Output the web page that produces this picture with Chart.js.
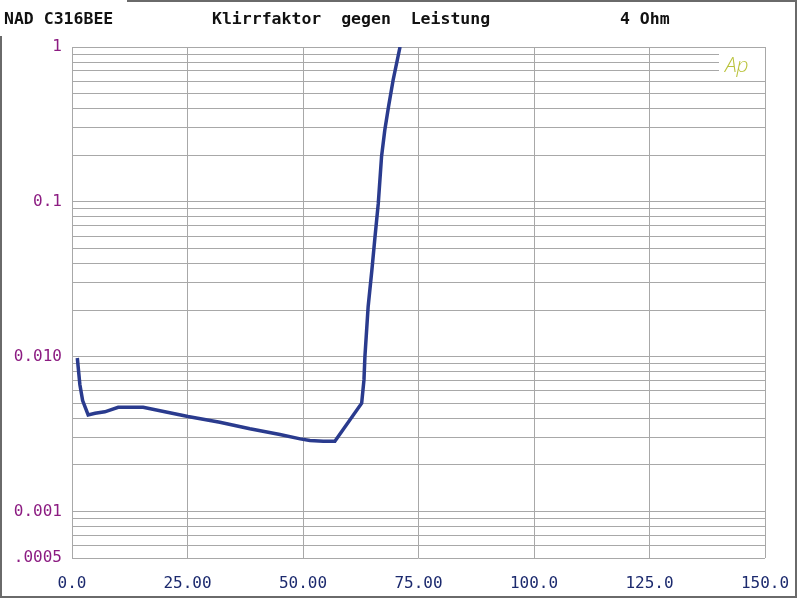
<!DOCTYPE html>
<html>
<head>
<meta charset="utf-8">
<script src="https://cdn.jsdelivr.net/npm/chart.js@4/dist/chart.umd.min.js"></script>
<style>
	html, body { margin: 0; padding: 0; background: #fff; }
	#wrap { width: 800px; height: 602px; }
</style>
</head>
<body>
<div id="wrap"><canvas id="thdChart" width="800" height="602"></canvas></div>
<script>
// power in W, THD in %
const powerW = [1.15, 1.7, 2.3, 3.5, 5.0, 7.1, 10.0, 15.4, 20.1, 25.1, 32.0, 38.5, 45.0, 49.4, 51.5, 54.4, 56.9, 62.7, 63.2, 63.4, 64.1, 64.9, 65.6, 66.3, 67.0, 67.7, 68.5, 69.5, 71.0];
const thdPercent = [0.0098, 0.0066, 0.0052, 0.0042, 0.0043, 0.0044, 0.0047, 0.0047, 0.0044, 0.0041, 0.00377, 0.00342, 0.00314, 0.00294, 0.00287, 0.00284, 0.00284, 0.0050, 0.0071, 0.010, 0.021, 0.036, 0.060, 0.098, 0.196, 0.29, 0.41, 0.61, 1.0];

const xTickLabels = ['0.0', '25.00', '50.00', '75.00', '100.0', '125.0', '150.0'];
const yTickValues = [1, 0.1, 0.01, 0.001, 0.0005];
const yTickLabels = ['1', '0.1', '0.010', '0.001', '.0005'];

const FONT = "'DejaVu Sans Mono', 'Liberation Mono', monospace";
const GRID = '#a8a8a8';

const headerPlugin = {
	id: 'header',
	afterDraw: function(chart) {
		const c = chart.ctx;
		const area = chart.chartArea;
		c.save();
		// outer frame
		c.strokeStyle = '#6a6a6a';
		c.lineWidth = 2;
		c.beginPath();
		c.moveTo(127, 1);
		c.lineTo(796, 1);
		c.lineTo(796, 597);
		c.lineTo(1, 597);
		c.lineTo(1, 36);
		c.stroke();
		// texts
		c.fillStyle = '#111';
		c.font = 'bold 16.5px ' + FONT;
		c.textBaseline = 'middle';
		c.fillText('NAD C316BEE', 4, 20);
		c.fillText('Klirrfaktor  gegen  Leistung', 212, 20);
		c.fillText('4 Ohm', 620, 20);
		// Ap logo, gridlines cut behind it
		c.fillStyle = '#fff';
		c.fillRect(area.right - 46, area.top + 2, 47, 30);
		c.strokeStyle = GRID;
		c.lineWidth = 1;
		c.beginPath();
		c.moveTo(Math.round(area.right) + 0.5, area.top);
		c.lineTo(Math.round(area.right) + 0.5, area.top + 34);
		c.stroke();
		c.fillStyle = '#b9c23a';
		c.font = 'italic 300 21px ' + "'Open Sans', 'DejaVu Sans', sans-serif";
		c.fillText('Ap', area.right - 40, area.top + 19);
		c.restore();
	}
};

new Chart(document.getElementById('thdChart').getContext('2d'), {
	type: 'line',
	data: {
		datasets: [{
			data: powerW.map((x, i) => ({ x: x, y: thdPercent[i] })),
			borderColor: '#2a3b8e',
			borderWidth: 3.5,
			pointRadius: 0,
			tension: 0,
			fill: false
		}]
	},
	options: {
		responsive: false,
		animation: false,
		layout: { padding: { left: 0, right: 35, top: 47, bottom: 0 } },
		plugins: {
			legend: { display: false },
			tooltip: { enabled: false }
		},
		scales: {
			x: {
				type: 'linear',
				min: 0,
				max: 150,
				afterFit: function(scale) {
					scale.height = 44;
					scale.paddingLeft = 0;
					scale.paddingRight = 0;
				},
				afterBuildTicks: function(scale) {
					scale.ticks = xTickLabels.map((l, i) => ({ value: i * 25 }));
				},
				grid: { color: GRID, lineWidth: 1, drawTicks: false },
				border: { display: false },
				ticks: {
					autoSkip: false,
					maxRotation: 0,
					padding: 16,
					color: '#1c2a6e',
					font: { family: FONT, size: 16 },
					callback: function(value, index) { return xTickLabels[index]; }
				}
			},
			y: {
				type: 'logarithmic',
				min: 0.0005,
				max: 1,
				afterFit: function(scale) {
					scale.width = 72;
					scale.paddingTop = 0;
					scale.paddingBottom = 0;
				},
				afterBuildTicks: function(scale) {
					const vals = [];
					[0.0001, 0.001, 0.01, 0.1].forEach(function(d) {
						for (let m = 1; m <= 9; m++) {
							const v = m * d;
							if (v >= 0.0005 - 1e-12) vals.push(v);
						}
					});
					vals.push(1);
					scale.ticks = vals.map(v => ({ value: v }));
				},
				grid: { color: GRID, lineWidth: 1, drawTicks: false },
				border: { display: false },
				ticks: {
					autoSkip: false,
					padding: 10,
					color: '#8c1c82',
					font: { family: FONT, size: 16 },
					callback: function(value) {
						const i = yTickValues.findIndex(v => Math.abs(v - value) / v < 1e-6);
						return i >= 0 ? yTickLabels[i] : '';
					}
				}
			}
		}
	},
	plugins: [headerPlugin]
});
</script>
</body>
</html>
